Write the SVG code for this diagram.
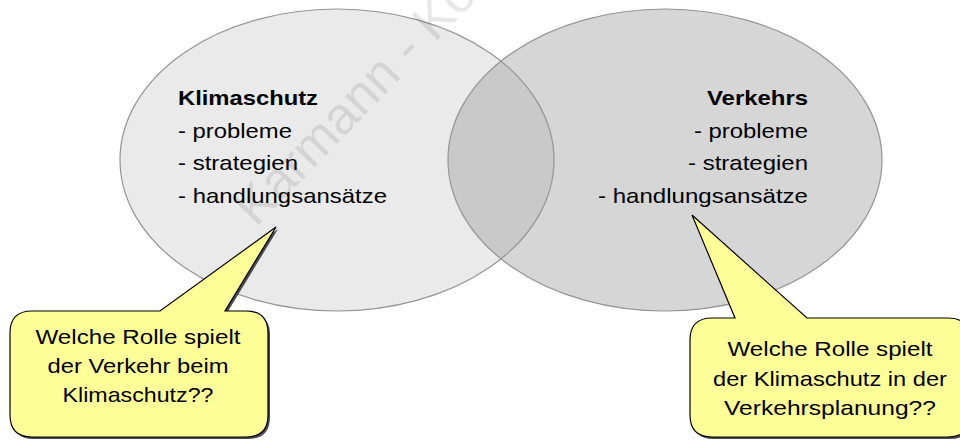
<svg xmlns="http://www.w3.org/2000/svg" width="960" height="441" viewBox="0 0 960 441">
<style>
.ell{stroke:#959595;stroke-width:1.2}
.t{font-family:"Liberation Sans",Arial,sans-serif;font-size:21px;fill:#000}
.b{font-weight:bold}
.call{fill:#ffff99;stroke:#000;stroke-width:1.2}
.shadow{fill:#4a4a4a}
.wm{font-family:"Liberation Sans",Arial,sans-serif;font-size:52px;fill:#000;fill-opacity:0.09}
</style>
<rect width="960" height="441" fill="#fff"/>
<g id="klimaschutz-circle">
<ellipse class="ell" cx="337" cy="160" rx="217" ry="151" fill="#eaeaea"/>
</g>
<g id="verkehr-circle">
<ellipse class="ell" cx="665" cy="160" rx="217" ry="151" fill="#939393" fill-opacity="0.38"/>
</g>
<text class="wm" x="256" y="228" transform="rotate(-46 256 228)">Karmann - Ko</text>
<g id="klimaschutz-text">
<text class="t b" x="178" y="105" textLength="140" lengthAdjust="spacingAndGlyphs">Klimaschutz</text>
<text class="t" x="178" y="137.5" textLength="114" lengthAdjust="spacingAndGlyphs">- probleme</text>
<text class="t" x="178" y="170" textLength="120" lengthAdjust="spacingAndGlyphs">- strategien</text>
<text class="t" x="178" y="202.5" textLength="209" lengthAdjust="spacingAndGlyphs">- handlungsansätze</text>
</g>
<g id="verkehr-text" text-anchor="end">
<text class="t b" x="808" y="105" textLength="101" lengthAdjust="spacingAndGlyphs">Verkehrs</text>
<text class="t" x="808" y="137.5" textLength="114" lengthAdjust="spacingAndGlyphs">- probleme</text>
<text class="t" x="808" y="170" textLength="120" lengthAdjust="spacingAndGlyphs">- strategien</text>
<text class="t" x="808" y="202.5" textLength="210" lengthAdjust="spacingAndGlyphs">- handlungsansätze</text>
</g>
<g id="callout-left">
<path class="shadow" transform="translate(2,2)" d="M32 311 L160 311 L276 227 L225 311 L246 311 Q268 311 268 333 L268 415 Q268 437 246 437 L32 437 Q10 437 10 415 L10 333 Q10 311 32 311 Z"/>
<path class="call" d="M32 311 L160 311 L276 227 L225 311 L246 311 Q268 311 268 333 L268 415 Q268 437 246 437 L32 437 Q10 437 10 415 L10 333 Q10 311 32 311 Z"/>
<g text-anchor="middle">
<text class="t" x="138" y="344" textLength="205" lengthAdjust="spacingAndGlyphs">Welche Rolle spielt</text>
<text class="t" x="138" y="373" textLength="181" lengthAdjust="spacingAndGlyphs">der Verkehr beim</text>
<text class="t" x="138" y="402" textLength="151" lengthAdjust="spacingAndGlyphs">Klimaschutz??</text>
</g>
</g>
<g id="callout-right">
<path class="shadow" transform="translate(2,2)" d="M712 318 L735 318 L692 215 L807 318 L948 318 Q970 318 970 340 L970 415 Q970 437 948 437 L712 437 Q690 437 690 415 L690 340 Q690 318 712 318 Z"/>
<path class="call" d="M712 318 L735 318 L692 215 L807 318 L948 318 Q970 318 970 340 L970 415 Q970 437 948 437 L712 437 Q690 437 690 415 L690 340 Q690 318 712 318 Z"/>
<g text-anchor="middle">
<text class="t" x="830" y="356" textLength="205" lengthAdjust="spacingAndGlyphs">Welche Rolle spielt</text>
<text class="t" x="830" y="386" textLength="234" lengthAdjust="spacingAndGlyphs">der Klimaschutz in der</text>
<text class="t" x="830" y="415" textLength="212" lengthAdjust="spacingAndGlyphs">Verkehrsplanung??</text>
</g>
</g>
</svg>
